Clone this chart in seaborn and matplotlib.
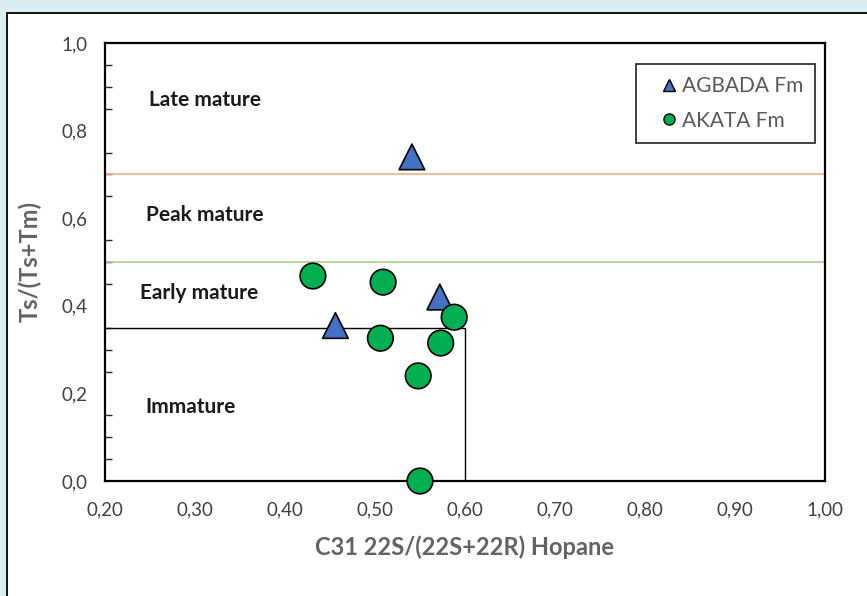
import pandas as pd
import matplotlib.pyplot as plt
import matplotlib.ticker as mticker
from matplotlib.lines import Line2D
from matplotlib.patches import Rectangle
import seaborn as sns

# hopane isomerisation vs Ts/(Ts+Tm)
agbada_x = [0.541, 0.456, 0.572]
agbada_y = [0.740, 0.355, 0.420]
akata_x = [0.431, 0.509, 0.588, 0.506, 0.573, 0.548, 0.550]
akata_y = [0.468, 0.454, 0.374, 0.326, 0.315, 0.240, 0.000]

formations = ["AGBADA Fm", "AKATA Fm"]
zone_names = ["Late mature", "Peak mature", "Early mature", "Immature"]
zone_x = [0.311, 0.311, 0.305, 0.295]
zone_y = [0.870, 0.607, 0.430, 0.170]

df = pd.concat(
    [
        pd.DataFrame({"x": agbada_x, "y": agbada_y, "fm": formations[0]}),
        pd.DataFrame({"x": akata_x, "y": akata_y, "fm": formations[1]}),
    ]
)

sns.set_style("white")
plt.rcParams["font.family"] = ["Lato", "DejaVu Sans"]

fig = plt.figure(figsize=(8.67, 5.96), dpi=100)
fig.patch.set_facecolor("#d9edf3")
# white panel with black frame
fig.patches.append(
    Rectangle((6.5 / 867, -0.1), 1.0, (596 - 12.5) / 596 + 0.1,
              transform=fig.transFigure, facecolor="white",
              edgecolor="black", linewidth=1.3, zorder=-5)
)
ax = fig.add_axes([105 / 867, 115 / 596, 720 / 867, 438 / 596])
ax.set_zorder(5)
ax.set_facecolor("white")

# maturity boundaries
ax.axhline(0.7, color="#f4b183", lw=1.2, zorder=1)
ax.axhline(0.5, color="#a9d18e", lw=1.2, zorder=1)
ax.plot([0.2, 0.6, 0.6], [0.35, 0.35, 0.0], color="black", lw=1.0, zorder=1)

sns.scatterplot(
    data=df, x="x", y="y", hue="fm", style="fm",
    palette={"AGBADA Fm": "#4472c4", "AKATA Fm": "#00b050"},
    markers={"AGBADA Fm": "^", "AKATA Fm": "o"},
    s=340, edgecolor="black", linewidth=1.2, legend=False, ax=ax,
    zorder=3, clip_on=False,
)

for name, tx, ty in zip(zone_names, zone_x, zone_y):
    ax.text(tx, ty, name, ha="center", va="center", fontsize=15,
            fontweight="bold", color="#1a1a1a")

ax.set_xlim(0.2, 1.0)
ax.set_ylim(0.0, 1.0)
ax.xaxis.set_major_locator(mticker.MultipleLocator(0.1))
ax.yaxis.set_major_locator(mticker.MultipleLocator(0.2))
ax.yaxis.set_minor_locator(mticker.MultipleLocator(0.05))
ax.xaxis.set_major_formatter(mticker.FuncFormatter(lambda v, p: f"{v:.2f}".replace(".", ",")))
ax.yaxis.set_major_formatter(mticker.FuncFormatter(lambda v, p: f"{v:.1f}".replace(".", ",")))
ax.tick_params(axis="both", which="major", direction="inout", length=9,
               width=1.0, labelsize=13.5, colors="black", labelcolor="#404040")
ax.tick_params(axis="y", which="major", pad=8)
ax.tick_params(axis="y", which="minor", direction="in", length=5, width=1.0,
               left=True)
ax.tick_params(axis="x", which="major", length=10, pad=10)
for sp in ax.spines.values():
    sp.set_color("black")
    sp.set_linewidth(1.6)

ax.set_xlabel("C31 22S/(22S+22R) Hopane", fontsize=17, fontweight="bold",
              color="#636363", labelpad=12)
ax.set_ylabel("Ts/(Ts+Tm)", fontsize=17, fontweight="bold",
              color="#636363", labelpad=14)

handles = [
    Line2D([], [], marker="^", ls="", markersize=8, markerfacecolor="#4472c4",
           markeredgecolor="black", markeredgewidth=1.0),
    Line2D([], [], marker="o", ls="", markersize=8, markerfacecolor="#00b050",
           markeredgecolor="black", markeredgewidth=1.0),
]
leg = ax.legend(handles, formations, loc="upper left",
                bbox_to_anchor=(0.7375, 0.774, 0.2486, 0.179), mode="expand",
                fontsize=15, frameon=True, fancybox=False, edgecolor="black",
                handlelength=2.0, handletextpad=-0.4, borderpad=0.6,
                labelspacing=0.7, borderaxespad=0)
leg.get_frame().set_linewidth(1.3)
for t in leg.get_texts():
    t.set_color("#595959")

fig.savefig("out.png", dpi=100)
